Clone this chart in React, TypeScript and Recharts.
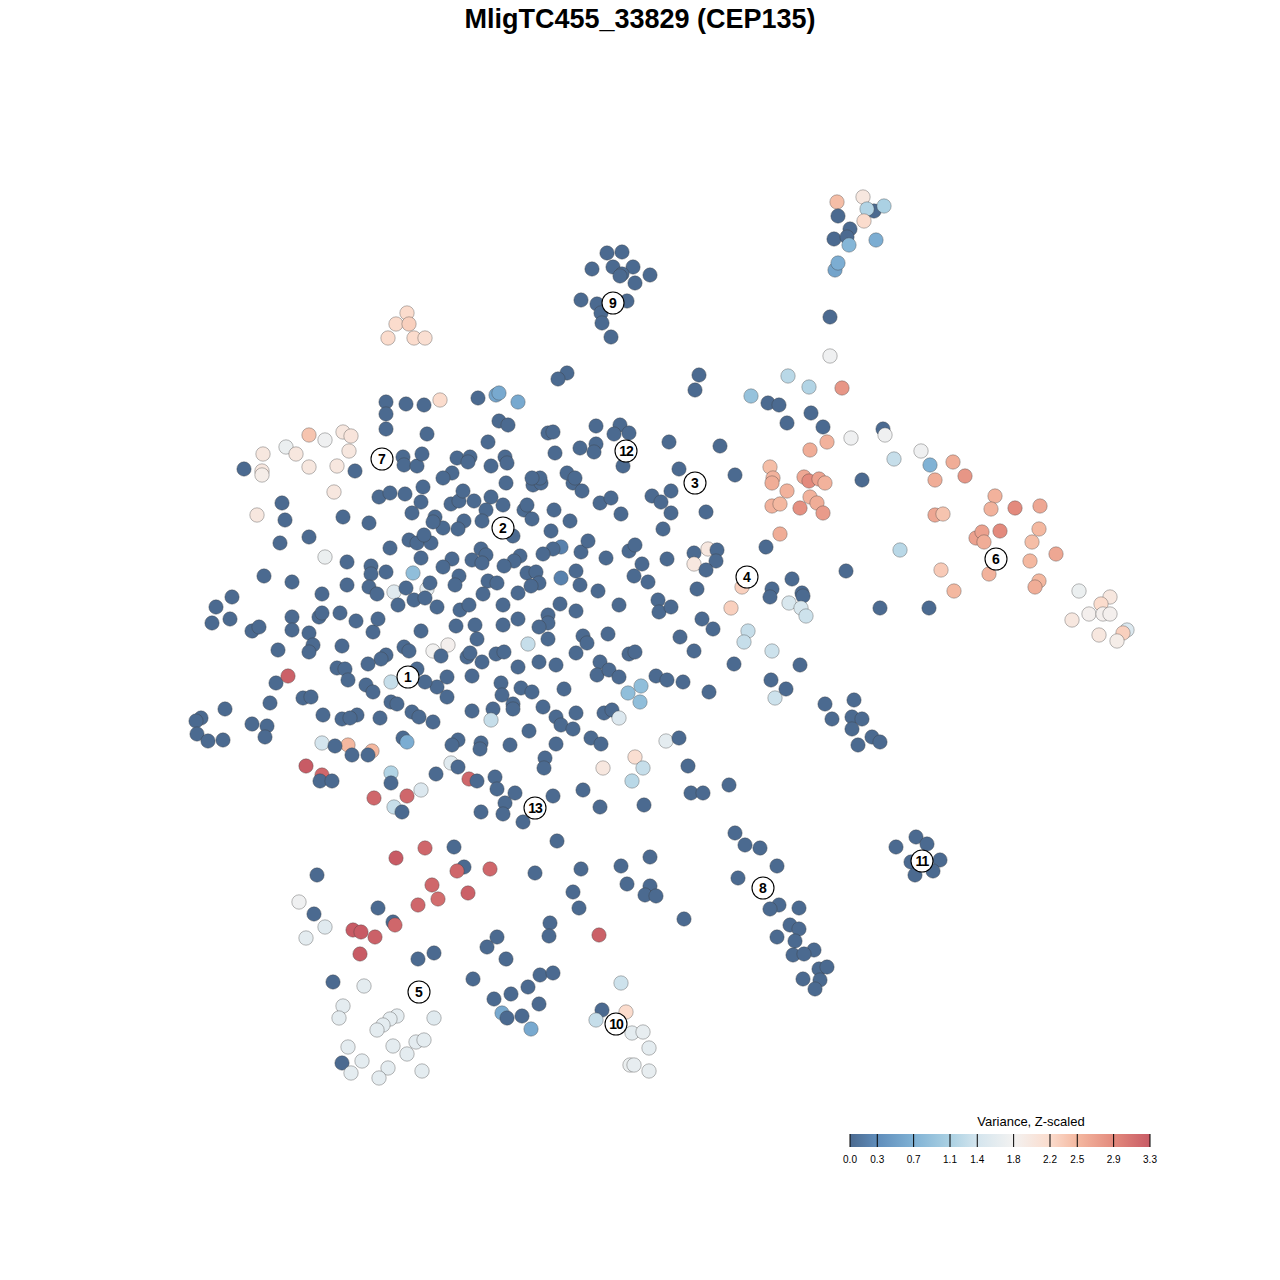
import { Scatter, ScatterChart, XAxis, YAxis, ZAxis } from "recharts";

// t-SNE embedding, [x, y, variance z-scaled]
const cluster9: number[][] = [
  [607, 253, 0], [622, 252, 0], [592, 269, 0], [613, 267, 0], [633, 267, 0], [622, 274, 0], [620, 276, 0],
  [650, 275, 0], [635, 283, 0], [581, 300, 0], [597, 304, 0], [627, 301, 0], [601, 313, 0], [602, 323, 0],
  [611, 337, 0],
];

const topLeftPeach: number[][] = [
  [407, 313, 2.2], [396, 324, 2.2], [409, 324, 2.3], [388, 338, 2.2], [414, 338, 2.2], [425, 338, 2.15],
];

const topRight: number[][] = [
  [837, 202, 2.45], [863, 197, 2.0], [838, 216, 0], [874, 211, 0], [867, 209, 1.15], [884, 206, 1.1],
  [864, 221, 2.2], [850, 229, 0], [834, 239, 0], [847, 237, 0], [849, 245, 0.75], [876, 240, 0.65],
  [835, 270, 0.55], [838, 263, 0.65], [830, 317, 0], [830, 356, 1.75], [842, 388, 2.8],
  [567, 373, 0], [558, 379, 0], [699, 375, 0], [695, 390, 0],
];

const cluster7: number[][] = [
  [386, 402, 0], [406, 404, 0], [424, 405, 0], [440, 400, 2.2], [478, 398, 0], [496, 395, 0.55],
  [499, 393, 0.6], [518, 402, 0.6], [386, 414, 0], [386, 429, 0], [427, 434, 0], [499, 421, 0],
  [508, 425, 0], [488, 442, 0],
  [309, 435, 2.4], [325, 440, 1.75], [286, 447, 1.7], [263, 454, 2.0], [296, 454, 2.0], [343, 432, 2.0],
  [351, 436, 2.05], [349, 451, 2.0], [309, 467, 2.0], [337, 466, 2.0], [262, 471, 2.0], [262, 475, 1.9],
  [244, 469, 0], [355, 471, 0],
  [403, 457, 0], [404, 465, 0], [417, 466, 0], [422, 454, 0], [457, 458, 0], [470, 457, 0], [468, 462, 0],
  [491, 466, 0], [505, 457, 0], [452, 473, 0], [443, 478, 0],
];

const cluster12: number[][] = [
  [548, 433, 0], [553, 432, 0], [596, 426, 0], [620, 425, 0], [614, 434, 0], [629, 433, 0], [580, 448, 0],
  [596, 444, 0], [594, 452, 0], [555, 453, 0], [623, 466, 0], [669, 442, 0], [720, 446, 0], [679, 469, 0],
  [735, 475, 0], [567, 473, 0], [575, 478, 0], [507, 463, 0], [540, 478, 0], [532, 478, 0],
  [788, 376, 1.2], [809, 387, 1.15], [751, 396, 0.9], [768, 403, 0], [779, 405, 0], [811, 413, 0],
  [787, 423, 0], [823, 427, 0], [810, 450, 2.6], [827, 442, 2.55], [770, 467, 2.45], [773, 478, 2.55],
  [851, 438, 1.75], [883, 429, 0], [885, 435, 1.75], [894, 459, 1.3], [921, 451, 1.75], [930, 465, 0.7],
  [953, 462, 2.6], [965, 476, 2.8], [935, 480, 2.6], [862, 480, 0],
];

const cluster6: number[][] = [
  [772, 483, 2.6], [787, 491, 2.55], [804, 477, 2.65], [809, 481, 2.9], [819, 479, 2.7], [825, 483, 2.55],
  [772, 506, 2.55], [780, 504, 2.5], [800, 508, 2.85], [810, 497, 2.55], [817, 503, 2.6], [823, 513, 2.75],
  [780, 534, 2.6],
  [995, 496, 2.55], [991, 509, 2.55], [1015, 508, 2.9], [1040, 506, 2.65], [935, 515, 2.65], [943, 514, 2.4],
  [976, 538, 2.7], [982, 532, 2.7], [984, 542, 2.6], [1000, 531, 2.9], [1039, 529, 2.5], [1032, 542, 2.45],
  [1056, 554, 2.65], [1030, 561, 2.5], [900, 550, 1.2], [846, 571, 0], [941, 570, 2.35], [989, 574, 2.55],
  [954, 591, 2.5], [1039, 581, 2.5], [1035, 587, 2.6], [880, 608, 0], [929, 608, 0],
  [1079, 591, 1.7], [1110, 597, 2.0], [1101, 604, 2.2], [1072, 620, 2.0], [1089, 614, 1.85],
  [1103, 614, 1.85], [1110, 614, 1.85], [1127, 630, 1.5], [1123, 633, 2.3], [1099, 635, 2.0],
  [1117, 641, 1.9],
];

const cluster11: number[][] = [
  [825, 704, 0], [854, 700, 0], [832, 719, 0], [852, 717, 0], [862, 719, 0], [852, 729, 0], [872, 737, 0],
  [880, 742, 0], [858, 745, 0],
  [896, 847, 0], [916, 837, 0], [927, 844, 0], [911, 862, 0], [940, 860, 0], [915, 875, 0], [933, 871, 0],
];

const cluster8: number[][] = [
  [735, 833, 0], [745, 845, 0], [760, 848, 0], [777, 866, 0], [738, 878, 0], [779, 905, 0], [770, 909, 0],
  [799, 908, 0], [790, 925, 0], [799, 929, 0], [777, 937, 0], [795, 941, 0], [814, 950, 0], [793, 955, 0],
  [804, 954, 0], [819, 969, 0], [827, 967, 0], [820, 980, 0], [803, 979, 0], [815, 989, 0],
  [729, 785, 0], [688, 766, 0], [691, 793, 0], [703, 793, 0],
];

const cluster3and4: number[][] = [
  [506, 483, 0], [533, 485, 0], [541, 483, 0], [573, 483, 0], [582, 491, 0], [503, 505, 0], [524, 510, 0],
  [527, 505, 0], [532, 519, 0], [513, 536, 0], [554, 510, 0], [570, 521, 0], [551, 531, 0], [600, 503, 0],
  [611, 498, 0], [621, 514, 0], [652, 496, 0], [661, 502, 0], [671, 491, 0], [671, 513, 0], [663, 529, 0],
  [706, 512, 0],
  [561, 547, 0.2], [553, 549, 0], [543, 554, 0], [581, 552, 0], [588, 541, 0], [606, 558, 0], [629, 551, 0],
  [635, 545, 0], [642, 564, 0], [634, 576, 0], [648, 582, 0], [667, 559, 0], [694, 553, 0], [708, 549, 2.0],
  [717, 550, 0], [694, 564, 2.0], [716, 561, 0], [706, 570, 0], [697, 589, 0], [742, 587, 2.3],
  [731, 608, 2.3], [766, 547, 0],
  [520, 556, 0], [514, 561, 0], [504, 566, 0], [527, 573, 0], [536, 572, 0], [539, 583, 0], [531, 586, 0],
  [561, 578, 0.2], [576, 571, 0], [580, 585, 0], [598, 591, 0], [619, 605, 0], [658, 600, 0], [659, 612, 0],
  [671, 607, 0], [560, 604, 0], [576, 611, 0], [548, 615, 0], [548, 623, 0], [539, 627, 0], [548, 639, 0],
  [518, 619, 0], [518, 593, 0], [503, 605, 0], [503, 625, 0], [528, 644, 1.3], [583, 636, 0], [587, 643, 0],
  [608, 634, 0], [576, 653, 0], [702, 619, 0], [713, 629, 0], [680, 637, 0], [694, 651, 0], [629, 654, 0],
  [635, 652, 0], [504, 652, 0], [518, 667, 0], [539, 662, 0], [556, 665, 0], [600, 662, 0], [597, 675, 0],
  [609, 670, 0], [619, 677, 0], [656, 676, 0], [667, 680, 0], [683, 682, 0], [564, 689, 0], [521, 688, 0],
  [532, 692, 0], [501, 683, 0], [502, 695, 0], [513, 704, 0], [513, 709, 0], [543, 707, 0], [556, 717, 0],
  [561, 725, 0], [573, 729, 0], [576, 713, 0], [604, 713, 0], [612, 710, 0], [619, 718, 1.5], [529, 731, 0],
  [510, 745, 0], [556, 744, 0], [591, 738, 0], [601, 744, 0], [641, 686, 0.85], [628, 693, 0.85],
  [640, 702, 0.85], [709, 692, 0], [734, 664, 0], [748, 631, 1.3], [744, 642, 1.3], [772, 651, 1.35],
  [771, 680, 0], [786, 689, 0], [775, 698, 1.35], [800, 665, 0], [792, 579, 0], [772, 589, 0], [770, 597, 0],
  [802, 593, 0], [803, 596, 0], [789, 603, 1.45], [801, 608, 1.45], [806, 616, 1.35],
  [666, 741, 1.6], [679, 738, 0], [635, 757, 2.15], [603, 768, 2.0], [643, 768, 1.3],
];

const cluster2and1: number[][] = [
  [334, 492, 2.0], [257, 515, 2.0], [282, 503, 0], [285, 520, 0], [280, 543, 0], [309, 537, 0], [343, 517, 0],
  [369, 523, 0], [325, 557, 1.7], [264, 576, 0], [292, 582, 0], [347, 562, 0], [347, 585, 0], [322, 594, 0],
  [232, 597, 0], [216, 607, 0], [230, 619, 0], [212, 623, 0], [252, 631, 0], [259, 627, 0], [292, 617, 0],
  [292, 630, 0], [319, 617, 0], [322, 613, 0], [340, 613, 0], [356, 621, 0], [309, 633, 0], [313, 645, 0],
  [309, 652, 0], [278, 650, 0], [342, 646, 0], [373, 632, 0], [378, 619, 0], [371, 566, 0], [371, 574, 0],
  [386, 572, 0], [369, 587, 0], [377, 594, 0], [394, 592, 1.55], [413, 573, 0.85], [427, 589, 1.6],
  [406, 588, 0], [414, 600, 0], [425, 598, 0], [430, 583, 0], [398, 605, 0], [437, 607, 0], [390, 548, 0],
  [409, 540, 0], [417, 543, 0], [431, 543, 0], [424, 535, 0], [421, 558, 0], [412, 513, 0], [421, 502, 0],
  [423, 487, 0], [379, 497, 0], [390, 493, 0], [405, 494, 0], [435, 517, 0], [443, 528, 0], [433, 522, 0],
  [451, 504, 0], [459, 501, 0], [463, 491, 0], [474, 501, 0], [491, 497, 0], [486, 510, 0], [482, 521, 0],
  [464, 521, 0], [458, 529, 0],
  [481, 549, 0], [486, 555, 0], [472, 560, 0], [482, 563, 0], [452, 559, 0], [443, 567, 0], [459, 576, 0],
  [455, 585, 0], [488, 581, 0], [497, 583, 0], [483, 594, 0], [460, 610, 0], [469, 605, 0], [475, 625, 0],
  [456, 626, 0], [477, 639, 0], [421, 631, 0], [433, 651, 1.8], [448, 645, 1.85], [441, 656, 0],
  [467, 657, 0], [470, 653, 0], [482, 662, 0], [496, 654, 0], [472, 676, 0], [493, 709, 0], [491, 720, 1.3],
  [472, 711, 0], [447, 677, 0], [437, 687, 0], [425, 682, 0], [447, 697, 0], [417, 669, 0], [391, 682, 1.3],
  [404, 647, 0], [409, 651, 0], [386, 655, 0], [381, 659, 0], [368, 664, 0], [337, 668, 0], [345, 669, 0],
  [348, 680, 0], [366, 685, 0], [373, 692, 0], [391, 702, 0], [397, 704, 0], [412, 712, 0], [419, 717, 0],
  [433, 722, 0], [380, 718, 0], [357, 715, 0], [342, 719, 0], [350, 718, 0], [323, 715, 0], [303, 698, 0],
  [311, 697, 0], [270, 703, 0], [276, 683, 0], [288, 676, 3.25], [225, 709, 0], [201, 718, 0], [196, 721, 0],
  [197, 734, 0], [208, 741, 0], [223, 740, 0], [252, 724, 0], [267, 726, 0], [265, 737, 0],
  [322, 743, 1.4], [348, 745, 2.5], [335, 746, 0], [352, 755, 0], [372, 751, 2.5], [368, 755, 0],
  [403, 738, 0], [407, 742, 0.65], [458, 740, 0], [452, 745, 0], [481, 743, 0], [480, 749, 0],
];

const cluster13: number[][] = [
  [306, 766, 3.3], [322, 775, 3.2], [320, 781, 0], [332, 781, 0], [391, 773, 1.15], [391, 783, 0],
  [436, 774, 0], [451, 763, 1.55], [458, 767, 0], [469, 779, 3.2], [477, 781, 0], [495, 777, 0], [497, 789, 0],
  [421, 790, 1.5], [374, 798, 3.2], [407, 796, 3.2], [394, 807, 1.3], [402, 812, 0], [481, 812, 0],
  [545, 758, 0], [544, 768, 0], [632, 781, 1.2], [644, 805, 0], [600, 807, 0], [583, 790, 0], [553, 796, 0],
  [515, 793, 0], [505, 803, 0], [503, 814, 0], [523, 822, 0],
  [557, 841, 0], [535, 873, 0], [581, 869, 0], [621, 866, 0], [650, 857, 0], [627, 884, 0], [650, 886, 0],
  [645, 895, 0], [656, 896, 0], [573, 892, 0], [579, 908, 0], [684, 919, 0], [550, 923, 0], [549, 936, 0],
  [599, 935, 3.25],
];

const cluster5: number[][] = [
  [425, 848, 3.2], [396, 858, 3.3], [454, 847, 0], [464, 867, 0], [457, 871, 3.2], [490, 869, 3.2],
  [317, 875, 0], [432, 885, 3.2], [438, 899, 3.15], [468, 893, 3.25], [418, 905, 3.2], [299, 902, 1.75],
  [314, 914, 0], [325, 927, 1.55], [306, 938, 1.6], [378, 908, 0], [393, 922, 0], [395, 925, 3.2],
  [353, 930, 3.3], [361, 932, 3.3], [375, 937, 3.25], [360, 954, 3.3], [418, 959, 0], [434, 953, 0],
  [497, 937, 0], [487, 947, 0], [506, 959, 0],
  [333, 982, 0], [364, 986, 1.6], [473, 979, 0], [494, 999, 0],
  [343, 1006, 1.6], [339, 1018, 1.6], [397, 1016, 1.6], [390, 1019, 1.6], [383, 1025, 1.6], [377, 1030, 1.6],
  [434, 1018, 1.55], [348, 1047, 1.6], [393, 1046, 1.6], [416, 1042, 1.6], [424, 1040, 1.6], [407, 1054, 1.6],
  [342, 1063, 0], [362, 1061, 1.6], [351, 1073, 1.6], [388, 1068, 1.6], [379, 1078, 1.6], [422, 1071, 1.6],
];

const cluster10: number[][] = [
  [540, 975, 0], [553, 973, 0], [528, 987, 0], [511, 994, 0], [539, 1004, 0], [502, 1013, 0.6],
  [507, 1018, 0], [522, 1016, 0], [531, 1029, 0.6],
  [621, 983, 1.35], [602, 1010, 0], [596, 1020, 1.3], [626, 1012, 2.2], [632, 1033, 1.6], [643, 1032, 1.65],
  [649, 1048, 1.6], [630, 1065, 1.7], [634, 1065, 1.65], [649, 1071, 1.65],
];

const clusterIds = ["1", "2", "3", "4", "5", "6", "7", "8", "9", "10", "11", "12", "13"];
const clusterCentersX = [408, 503, 695, 747, 419, 996, 382, 763, 613, 616, 922, 626, 535];
const clusterCentersY = [677, 528, 483, 577, 992, 559, 459, 888, 303, 1024, 861, 451, 808];

const legendTicks = [0.0, 0.3, 0.7, 1.1, 1.4, 1.8, 2.2, 2.5, 2.9, 3.3];

const colorStops: [number, string][] = [
  [0.0, "#4b6a90"],
  [0.3, "#5f8dbb"],
  [0.7, "#80b2d5"],
  [1.1, "#abd1e3"],
  [1.4, "#d4e5ee"],
  [1.8, "#f3f2f1"],
  [2.2, "#fbdccd"],
  [2.5, "#f4b8a0"],
  [2.9, "#e38a7d"],
  [3.3, "#c85b65"],
];

const hex = (c: string) => [1, 3, 5].map((i) => parseInt(c.slice(i, i + 2), 16));

function colorFor(v: number) {
  const x = Math.max(0, Math.min(3.3, v));
  for (let i = 0; i < colorStops.length - 1; i++) {
    const [v0, c0] = colorStops[i];
    const [v1, c1] = colorStops[i + 1];
    if (x <= v1) {
      const t = (x - v0) / (v1 - v0);
      const a = hex(c0);
      const b = hex(c1);
      const m = a.map((ch, k) => Math.round(ch + (b[k] - ch) * t));
      return `rgb(${m[0]},${m[1]},${m[2]})`;
    }
  }
  return colorStops[colorStops.length - 1][1];
}

const points = [
  ...cluster2and1, ...cluster3and4, ...cluster7, ...cluster12, ...cluster9, ...topLeftPeach, ...topRight,
  ...cluster6, ...cluster11, ...cluster8, ...cluster13, ...cluster5, ...cluster10,
].map(([x, y, v]) => ({ x, y, v }));

const labels = clusterIds.map((id, i) => ({ id, x: clusterCentersX[i], y: clusterCentersY[i] }));

const Dot = (props: any) => {
  const { cx, cy, payload } = props;
  return (
    <circle cx={cx} cy={cy} r={7.2} fill={colorFor(payload.v)} stroke="#3a3a3a" strokeOpacity={0.45} strokeWidth={0.8} />
  );
};

const ClusterLabel = (props: any) => {
  const { cx, cy, payload } = props;
  return (
    <g>
      <circle cx={cx} cy={cy} r={11} fill="#ffffff" stroke="#000" strokeWidth={1.1} />
      <text x={cx} y={cy + 5} textAnchor="middle" fontSize={14} fontWeight="bold" fill="#000"
        fontFamily="'Liberation Sans', Arial, sans-serif" letterSpacing={payload.id.length > 1 ? -1 : 0}>
        {payload.id}
      </text>
    </g>
  );
};

const LX0 = 850;
const LX1 = 1150;
const lx = (v: number) => LX0 + ((LX1 - LX0) * v) / 3.3;

export default function App() {
  return (
    <div style={{ position: "absolute", left: 0, top: 0, width: 1280, height: 1280, background: "#fff",
      fontFamily: "'Liberation Sans', Arial, sans-serif" }}>
      <ScatterChart width={1280} height={1280} margin={{ top: 0, right: 0, bottom: 0, left: 0 }}>
        <XAxis type="number" dataKey="x" domain={[0, 1280]} hide />
        <YAxis type="number" dataKey="y" domain={[0, 1280]} reversed hide />
        <ZAxis range={[150, 150]} />
        <Scatter data={points} shape={Dot} isAnimationActive={false} />
        <Scatter data={labels} shape={ClusterLabel} isAnimationActive={false} />
      </ScatterChart>
      <svg width={1280} height={1280} style={{ position: "absolute", left: 0, top: 0, pointerEvents: "none" }}>
        <text x={640} y={28} textAnchor="middle" fontSize={27} fontWeight="bold" fill="#000">
          MligTC455_33829 (CEP135)
        </text>
        <defs>
          <linearGradient id="varGrad" x1="0" x2="1" y1="0" y2="0">
            {colorStops.map(([v, c]) => (
              <stop key={v} offset={`${(v / 3.3) * 100}%`} stopColor={c} />
            ))}
          </linearGradient>
        </defs>
        <text x={1031} y={1126} textAnchor="middle" fontSize={13} fill="#000">Variance, Z-scaled</text>
        <rect x={LX0} y={1134} width={LX1 - LX0} height={13} fill="url(#varGrad)" />
        {legendTicks.map((t) => (
          <g key={t}>
            <line x1={lx(t)} x2={lx(t)} y1={1134} y2={1147} stroke="#000" strokeWidth={1} />
            <text x={lx(t)} y={1163} textAnchor="middle" fontSize={10} fill="#000">{t.toFixed(1)}</text>
          </g>
        ))}
      </svg>
    </div>
  );
}
